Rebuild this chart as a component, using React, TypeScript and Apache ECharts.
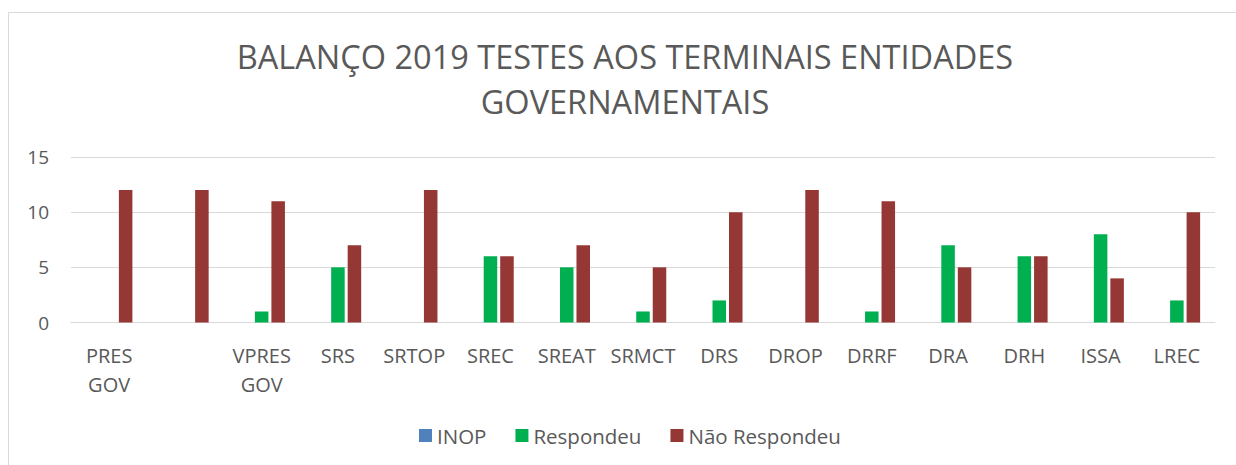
import React, { useEffect, useRef } from "react";
import * as echarts from "echarts";

const categories = ["PRES GOV", "", "VPRES GOV", "SRS", "SRTOP", "SREC", "SREAT", "SRMCT", "DRS", "DROP", "DRRF", "DRA", "DRH", "ISSA", "LREC"];
const inop = [0, 0, 0, 0, 0, 0, 0, 0, 0, 0, 0, 0, 0, 0, 0];
const respondeu = [0, 0, 1, 5, 0, 6, 5, 1, 2, 0, 1, 7, 6, 8, 2];
const naoRespondeu = [12, 12, 11, 7, 12, 6, 7, 5, 10, 12, 11, 5, 6, 4, 10];
const yTicks = { min: 0, max: 15, interval: 5 };
const titleText = "BALANÇO 2019 TESTES AOS TERMINAIS ENTIDADES\nGOVERNAMENTAIS";

const FONT = "'Open Sans', 'Noto Sans', sans-serif";
const TXT = "#595959";

export default function App() {
  const ref = useRef<HTMLDivElement>(null);
  useEffect(() => {
    if (!ref.current) return;
    const chart = echarts.init(ref.current, undefined, { renderer: "svg" });
    chart.setOption({
      animation: false,
      backgroundColor: "#ffffff",
      textStyle: { fontFamily: FONT, color: TXT },
      graphic: [
        {
          type: "rect",
          shape: { x: 8.5, y: 12.5, width: 1240, height: 470 },
          style: { fill: "none", stroke: "#d9d9d9", lineWidth: 1 },
          silent: true,
        },
        {
          type: "text",
          x: 625,
          y: 34,
          silent: true,
          style: {
            text: titleText,
            fontFamily: FONT,
            fontSize: 32.5,
            fontWeight: "normal",
            fill: TXT,
            lineHeight: 45,
            align: "center",
            verticalAlign: "top",
          },
        },
      ],
      legend: {
        top: 425,
        left: 419,
        itemWidth: 13,
        itemHeight: 13,
        itemGap: 29,
        icon: "rect",
        padding: 0,
        textStyle: { fontFamily: FONT, fontSize: 20.5, color: TXT },
        data: ["INOP", "Respondeu", "Não Respondeu"],
      },
      grid: { left: 71, right: 21, top: 157, bottom: 142.5, containLabel: false },
      xAxis: {
        type: "category",
        data: categories,
        axisLine: { show: true, lineStyle: { color: "#d9d9d9", width: 1 } },
        axisTick: { show: false },
        axisLabel: {
          interval: 0,
          color: TXT,
          fontFamily: FONT,
          fontSize: 20,
          lineHeight: 29,
          margin: 18,
          formatter: (v: string) => v.replace(" ", "\n"),
        },
      },
      yAxis: {
        type: "value",
        min: yTicks.min,
        max: yTicks.max,
        interval: yTicks.interval,
        axisLine: { show: false },
        axisTick: { show: false },
        splitLine: { lineStyle: { color: "#d9d9d9", width: 1 } },
        axisLabel: { color: TXT, fontFamily: FONT, fontSize: 19, margin: 22 },
      },
      series: [
        { name: "INOP", type: "bar", data: inop, itemStyle: { color: "#4F81BD" }, barGap: "22%", barCategoryGap: "39%" },
        { name: "Respondeu", type: "bar", data: respondeu, itemStyle: { color: "#00B050" } },
        { name: "Não Respondeu", type: "bar", data: naoRespondeu, itemStyle: { color: "#953735" } },
      ],
    });
    return () => chart.dispose();
  }, []);
  return <div ref={ref} style={{ position: "fixed", left: 0, top: 0, width: 1236, height: 465 }} />;
}
